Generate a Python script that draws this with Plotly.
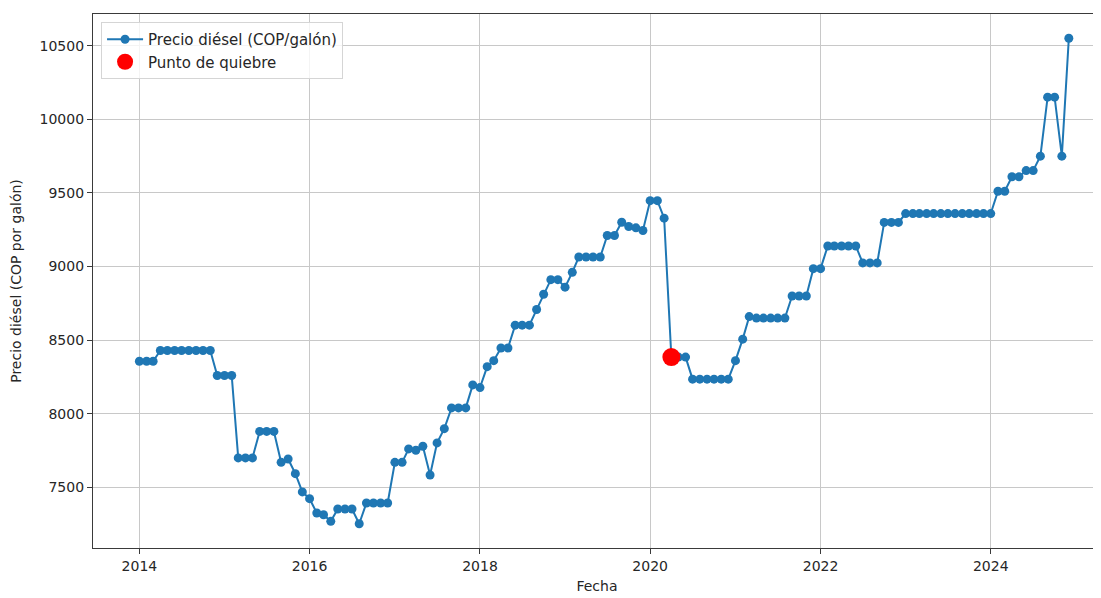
import pandas as pd
import plotly.graph_objects as go

# ---- data ----
start_month = "2014-01-01"
n_months = 132
precio_diesel = [
    8357, 8357, 8357, 8430, 8430, 8430, 8430, 8430, 8430, 8430, 8430, 8260,   # 2014
    8260, 8260, 7700, 7700, 7700, 7880, 7880, 7880, 7670, 7693, 7593, 7469,   # 2015
    7423, 7326, 7314, 7269, 7353, 7353, 7353, 7253, 7394, 7394, 7394, 7394,   # 2016
    7670, 7670, 7761, 7752, 7779, 7584, 7802, 7899, 8040, 8040, 8040, 8196,   # 2017
    8178, 8320, 8361, 8447, 8447, 8602, 8602, 8602, 8708, 8812, 8911, 8911,   # 2018
    8860, 8961, 9065, 9065, 9065, 9065, 9211, 9211, 9301, 9272, 9263, 9245,   # 2019
    9448, 9448, 9329, 8385, 8385, 8385, 8235, 8235, 8235, 8235, 8235, 8235,   # 2020
    8361, 8507, 8660, 8650, 8650, 8650, 8650, 8650, 8800, 8800, 8800, 8986,   # 2021
    8986, 9140, 9140, 9140, 9140, 9140, 9025, 9025, 9025, 9300, 9300, 9300,   # 2022
    9360, 9360, 9360, 9360, 9360, 9360, 9360, 9360, 9360, 9360, 9360, 9360,   # 2023
    9360, 9512, 9512, 9610, 9610, 9652, 9652, 9750, 10151, 10151, 9750, 10551 # 2024
]
fechas = pd.date_range(start_month, periods=n_months, freq="MS")
break_date = pd.Timestamp("2020-04-01")
break_value = precio_diesel[list(fechas).index(break_date)]

x_tick_years = [2014, 2016, 2018, 2020, 2022, 2024]
x_tick_labels = [str(y) for y in x_tick_years]
y_tick_values = [7500, 8000, 8500, 9000, 9500, 10000, 10500]
y_tick_labels = [str(v) for v in y_tick_values]

# ---- figure ----
FONT = "DejaVu Sans"
TXT = "#262626"
BLUE = "#1f77b4"

fig = go.Figure()
fig.add_trace(go.Scatter(
    x=fechas, y=precio_diesel, mode="lines+markers",
    name="Precio diésel (COP/galón)",
    line=dict(color=BLUE, width=2),
    marker=dict(color=BLUE, size=9),
))
fig.add_trace(go.Scatter(
    x=[break_date], y=[break_value], mode="markers",
    name="Punto de quiebre",
    marker=dict(color="#ff0000", size=18),
))

axis_common = dict(
    showline=True, linecolor="#3a3a3a", linewidth=1.2,
    ticks="outside", ticklen=5, tickwidth=1.1, tickcolor="#3a3a3a",
    showgrid=True, gridcolor="#c8c8c8", gridwidth=1,
    zeroline=False,
    tickfont=dict(family=FONT, size=14, color=TXT),
)

# page body has an 8px margin, so the figure is sized to end at the window edge
fig.update_layout(
    width=1093, height=590,
    margin=dict(l=85, r=0, t=6, b=50),
    paper_bgcolor="white", plot_bgcolor="white",
    font=dict(family=FONT, size=14, color=TXT),
    showlegend=True,
    legend=dict(
        x=0.008, y=0.985, xanchor="left", yanchor="top",
        bgcolor="rgba(255,255,255,0.8)", bordercolor="#d5d5d5", borderwidth=1,
        font=dict(family=FONT, size=15, color=TXT),
        itemwidth=36,
    ),
    xaxis=dict(
        **axis_common,
        mirror=True,
        type="date",
        range=["2013-06-16", "2025-04-18"],
        tickvals=[pd.Timestamp(f"{y}-01-01") for y in x_tick_years],
        ticktext=x_tick_labels,
        title=dict(text="Fecha", font=dict(family=FONT, size=14, color=TXT), standoff=8),
        automargin=False,
    ),
    yaxis=dict(
        **axis_common,
        range=[7088, 10716],
        tickvals=y_tick_values,
        ticktext=y_tick_labels,
        title=dict(text="Precio diésel (COP por galón)", font=dict(family=FONT, size=14, color=TXT), standoff=15),
        automargin=False,
    ),
)

fig.write_html("out.html")
